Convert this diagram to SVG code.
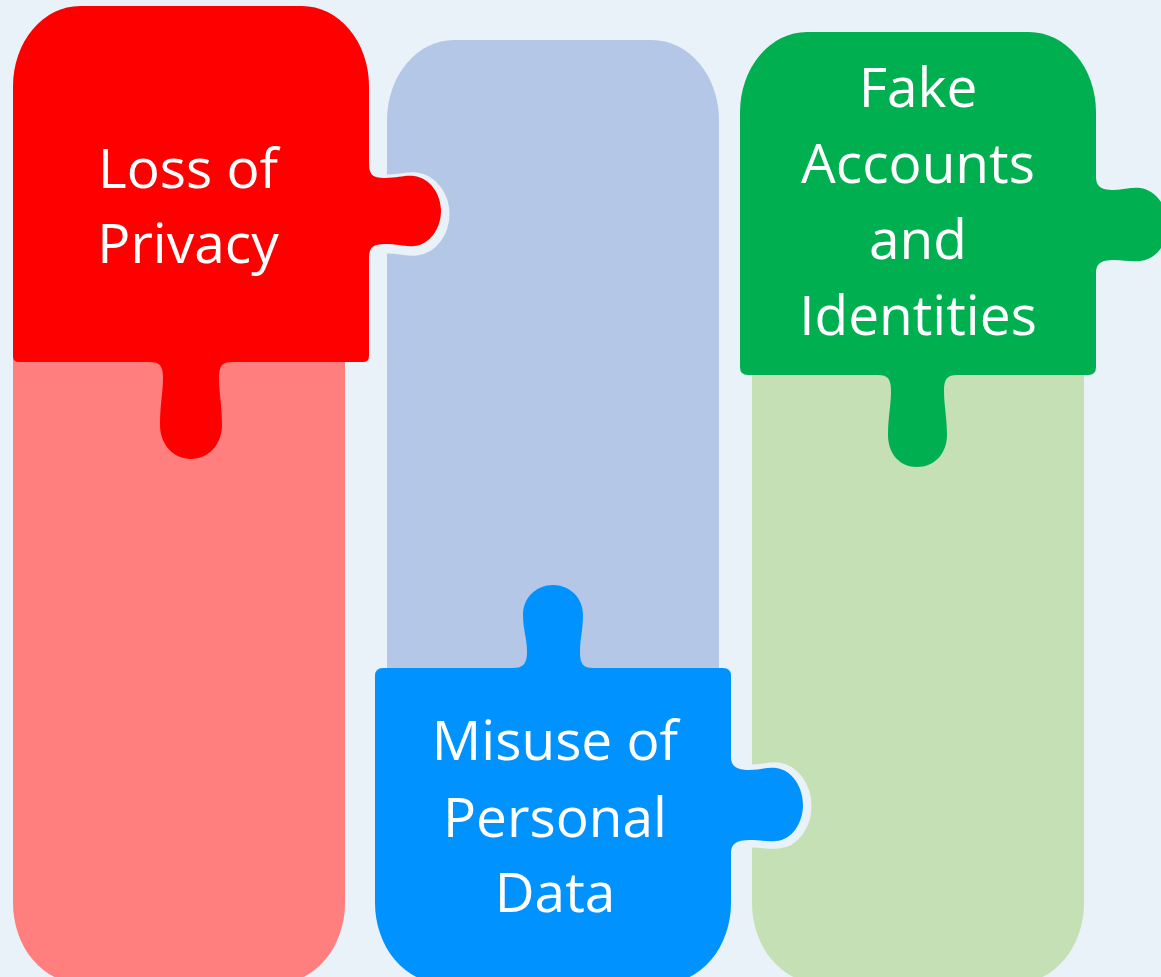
<svg xmlns="http://www.w3.org/2000/svg" width="1161" height="977" viewBox="0 0 1161 977">
<style>
.lbl{font-family:"Open Sans","Noto Sans","Liberation Sans",sans-serif;font-size:55px;fill:#FFFFFF;text-anchor:middle}
.halo{fill:none;stroke:#E9F1F9;stroke-width:13;stroke-linejoin:round}
</style>
<rect x="0" y="0" width="1161" height="977" fill="#E9F1F9"/>
<g id="columns">
<path d="M13,120 L345,120 L345,903 A67,80 0 0 1 278,983 L80,983 A67,80 0 0 1 13,903 Z" fill="#FF7F7F"/>
<path d="M387,120 A67,80 0 0 1 454,40 L652,40 A67,80 0 0 1 719,120 L719,720 L387,720 Z" fill="#B4C7E7"/>
<path d="M752,120 L1084,120 L1084,903 A67,80 0 0 1 1017,983 L819,983 A67,80 0 0 1 752,903 Z" fill="#C5E0B4"/>
</g>
<g id="connectors"></g>
<g id="node-loss-of-privacy">
<path class="halo" transform="translate(2,3)" d="M369,163 C369,174 372,178 385,178 C398,178 405,175 414,176 C430,178 441,194 441,211 C441,228 430,245 414,246 C405,247 398,244 385,244 C372,244 369,248 369,259"/>
<path fill="#FF0000" d="M13,86 A67,80 0 0 1 80,6 L302,6 A67,80 0 0 1 369,86 L369,163 C369,174 372,178 385,178 C398,178 405,175 414,176 C430,178 441,194 441,211 C441,228 430,245 414,246 C405,247 398,244 385,244 C372,244 369,248 369,259 L369,356 Q369,362 363,362 L232,362 C222,362 219,366 219,378 C219,392 222,405 222,425 C222,445 208,459 191,459 C174,459 160,445 160,425 C160,405 163,392 163,378 C163,366 160,362 150,362 L19,362 Q13,362 13,356 Z"/>
<text class="lbl" x="188" y="188">Loss of</text>
<text class="lbl" x="188" y="263">Privacy</text>
</g>
<g id="node-misuse-of-personal-data">
<path class="halo" transform="translate(2,1)" d="M731,757 C731,766 736,770 750,770 C760,770 767,767 776,768 C792,770 803,787 803,805 C803,823 792,840 776,841 C767,842 760,840 750,840 C736,840 731,844 731,853"/>
<path fill="#0093FF" d="M375,676 Q375,668 383,668 L513,668 C523,668 527,664 527,652 C527,638 523,630 523,615 C523,597 537,585 553,585 C569,585 583,597 583,615 C583,630 580,638 580,652 C580,664 583,668 593,668 L723,668 Q731,668 731,676 L731,757 C731,766 736,770 750,770 C760,770 767,767 776,768 C792,770 803,787 803,805 C803,823 792,840 776,841 C767,842 760,840 750,840 C736,840 731,844 731,853 L731,903 A67,80 0 0 1 664,983 L442,983 A67,80 0 0 1 375,903 Z"/>
<text class="lbl" x="555" y="760">Misuse of</text>
<text class="lbl" x="555" y="837">Personal</text>
<text class="lbl" x="555" y="912">Data</text>
</g>
<g id="node-fake-accounts-and-identities">
<path fill="#00B050" d="M740,112 A67,80 0 0 1 807,32 L1029,32 A67,80 0 0 1 1096,112 L1096,176 C1096,186 1100,190 1114,190 C1124,190 1131,187 1140,188 C1156,190 1168,207 1168,225 C1168,243 1156,260 1140,261 C1131,262 1124,260 1114,260 C1100,260 1096,264 1096,274 L1096,367 Q1096,375 1088,375 L957,375 C947,375 944,379 944,391 C944,405 947,418 947,435 C947,454 934,467 917,467 C900,467 888,454 888,435 C888,418 891,405 891,391 C891,379 888,375 878,375 L748,375 Q740,375 740,367 Z"/>
<text class="lbl" x="918" y="107">Fake</text>
<text class="lbl" x="918" y="183">Accounts</text>
<text class="lbl" x="918" y="259">and</text>
<text class="lbl" x="918" y="335">Identities</text>
</g>
</svg>
